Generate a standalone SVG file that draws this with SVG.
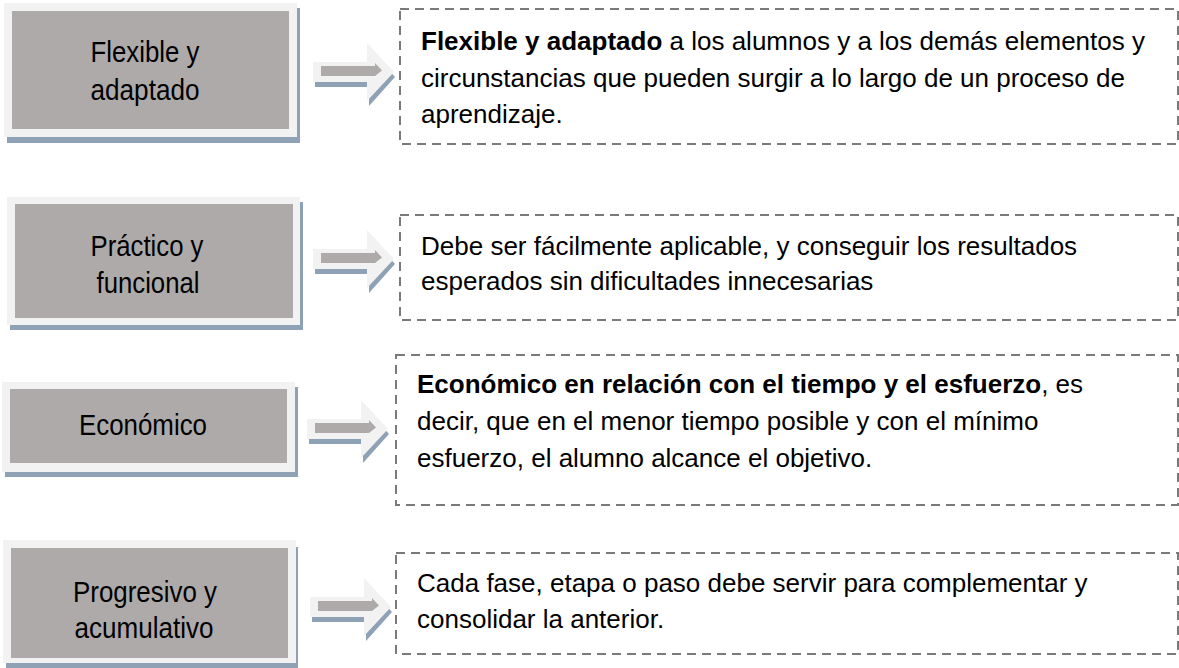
<svg xmlns="http://www.w3.org/2000/svg" width="1179" height="668" viewBox="0 0 1179 668">
<style>
.shadow{fill:#8fa2b5}
.frame{fill:#f2f2f2}
.core{fill:#aeaaa9}
.lbl{font-family:"Liberation Sans",Arial,sans-serif;font-size:30px;fill:#000;text-anchor:middle}
.desc{font-family:"Liberation Sans",Arial,sans-serif;font-size:26px;fill:#000}
.b{font-weight:bold}
.dash{fill:#fff;stroke:#7a7a7a;stroke-width:2;stroke-dasharray:9 6}
</style>
<defs>
<g id="arr">
<polygon class="shadow" points="2,24 56,24 56,5 82,34 56,63 56,44 2,44"/>
<polygon class="frame" points="0,19 54,19 54,0 81,29 54,58 54,39 0,39"/>
<polygon class="core" points="8,23 62,23 62,20 69,27.5 62,33 8,33"/>
</g>
</defs>
<rect width="1179" height="668" fill="#fff"/>

<g id="node-flexible">
<rect class="shadow" x="7" y="8" width="293" height="135"/>
<rect class="frame" x="4" y="3" width="293" height="134"/>
<rect class="core" x="12" y="11" width="277" height="118"/>
<text class="lbl" x="145" y="62" textLength="109" lengthAdjust="spacingAndGlyphs">Flexible y</text>
<text class="lbl" x="145" y="100" textLength="109" lengthAdjust="spacingAndGlyphs">adaptado</text>
</g>
<g id="node-practico">
<rect class="shadow" x="10" y="202" width="293" height="128"/>
<rect class="frame" x="7" y="197" width="293" height="128"/>
<rect class="core" x="15" y="204" width="278" height="114"/>
<text class="lbl" x="147" y="256" textLength="113" lengthAdjust="spacingAndGlyphs">Práctico y</text>
<text class="lbl" x="148" y="293" textLength="103" lengthAdjust="spacingAndGlyphs">funcional</text>
</g>
<g id="node-economico">
<rect class="shadow" x="5" y="387" width="293" height="90"/>
<rect class="frame" x="2" y="382" width="293" height="90"/>
<rect class="core" x="10" y="389" width="277" height="74"/>
<text class="lbl" x="143" y="435" textLength="128" lengthAdjust="spacingAndGlyphs">Económico</text>
</g>
<g id="node-progresivo">
<rect class="shadow" x="6" y="547" width="292" height="125"/>
<rect class="frame" x="3" y="540" width="293" height="123"/>
<rect class="core" x="11" y="548" width="277" height="110"/>
<text class="lbl" x="145" y="602" textLength="144" lengthAdjust="spacingAndGlyphs">Progresivo y</text>
<text class="lbl" x="144" y="638" textLength="139" lengthAdjust="spacingAndGlyphs">acumulativo</text>
</g>

<g id="connectors">
<use href="#arr" x="313" y="43"/>
<use href="#arr" x="313" y="230"/>
<use href="#arr" x="307" y="400"/>
<use href="#arr" x="310" y="578"/>
</g>

<g id="desc-flexible">
<rect class="dash" x="400" y="9" width="778" height="135"/>
<text class="desc" x="421" y="50"><tspan class="b">Flexible y adaptado</tspan> a los alumnos y a los demás elementos y</text>
<text class="desc" x="421" y="87">circunstancias que pueden surgir a lo largo de un proceso de</text>
<text class="desc" x="421" y="123">aprendizaje.</text>
</g>
<g id="desc-practico">
<rect class="dash" x="400" y="215" width="778" height="105"/>
<text class="desc" x="421" y="255">Debe ser fácilmente aplicable, y conseguir los resultados</text>
<text class="desc" x="421" y="290">esperados sin dificultades innecesarias</text>
</g>
<g id="desc-economico">
<rect class="dash" x="396" y="355" width="782" height="150"/>
<text class="desc" x="417" y="393"><tspan class="b">Económico en relación con el tiempo y el esfuerzo</tspan>, es</text>
<text class="desc" x="417" y="430">decir, que en el menor tiempo posible y con el mínimo</text>
<text class="desc" x="417" y="467">esfuerzo, el alumno alcance el objetivo.</text>
</g>
<g id="desc-progresivo">
<rect class="dash" x="396" y="553" width="782" height="101"/>
<text class="desc" x="417" y="592">Cada fase, etapa o paso debe servir para complementar y</text>
<text class="desc" x="417" y="628">consolidar la anterior.</text>
</g>
</svg>
